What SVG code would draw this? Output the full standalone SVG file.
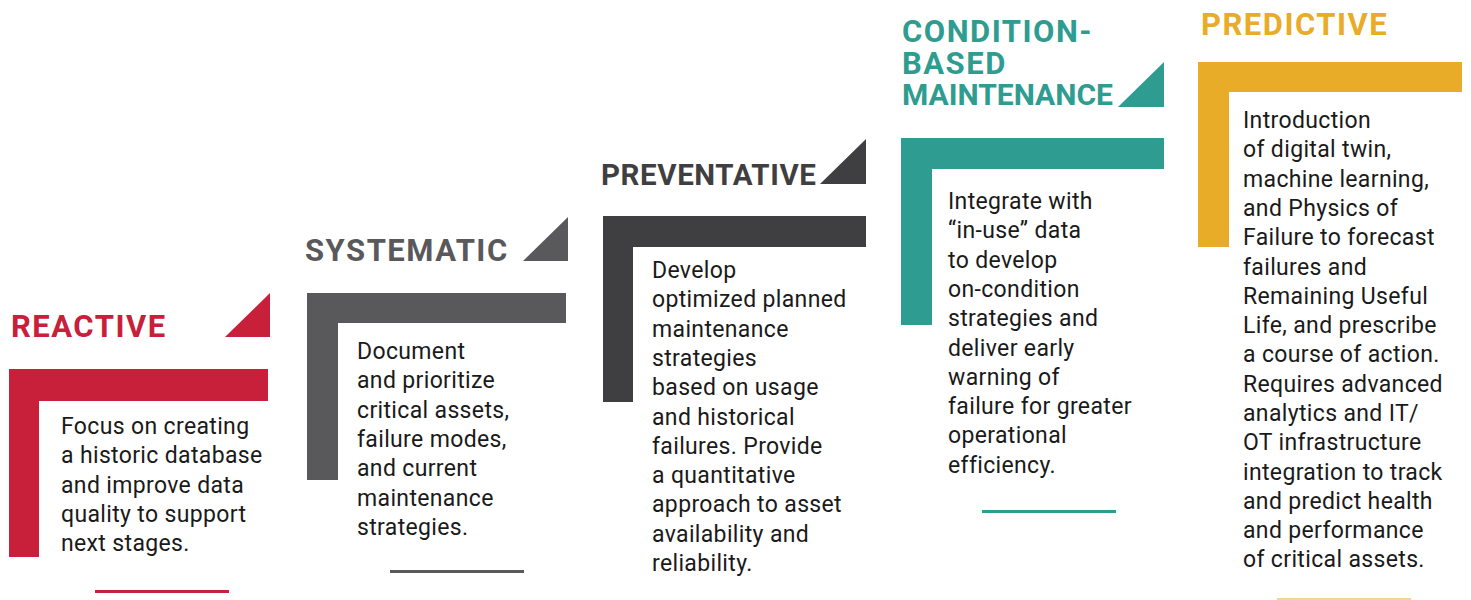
<svg xmlns="http://www.w3.org/2000/svg" width="1471" height="600" viewBox="0 0 1471 600">
<style>
.title{font-family:Roboto,"Liberation Sans",sans-serif;font-weight:700;font-size:31px;letter-spacing:1.5px}
.body{font-family:Roboto,"Liberation Sans",sans-serif;font-size:23px;letter-spacing:0.35px;fill:#1a1a1a}
.red{fill:#C8203A}
.grey{fill:#59595B}
.dark{fill:#3F3F41}
.teal{fill:#2E9C90}
.gold{fill:#E8AC28}
</style>
<rect width="1471" height="600" fill="#ffffff"/>

<g id="reactive">
<text class="title red" x="11" y="337">REACTIVE</text>
<polygon class="red" points="225,337 270,293 270,337"/>
<path class="red" d="M9,369 H268 V401 H39 V557 H9 Z"/>
<text class="body" x="61" y="434"><tspan x="61">Focus on creating</tspan><tspan x="61" dy="29.3">a historic database</tspan><tspan x="61" dy="29.3">and improve data</tspan><tspan x="61" dy="29.3">quality to support</tspan><tspan x="61" dy="29.3">next stages.</tspan></text>
<rect class="red" x="95" y="590" width="134" height="3"/>
</g>

<g id="systematic">
<text class="title grey" x="305" y="261">SYSTEMATIC</text>
<polygon class="grey" points="523,261 568,217 568,261"/>
<path class="grey" d="M307,293 H566 V323 H338 V480 H307 Z"/>
<text class="body" x="357" y="359"><tspan x="357">Document</tspan><tspan x="357" dy="29.3">and prioritize</tspan><tspan x="357" dy="29.3">critical assets,</tspan><tspan x="357" dy="29.3">failure modes,</tspan><tspan x="357" dy="29.3">and current</tspan><tspan x="357" dy="29.3">maintenance</tspan><tspan x="357" dy="29.3">strategies.</tspan></text>
<rect class="grey" x="390" y="570" width="134" height="3"/>
</g>

<g id="preventative">
<text class="title dark" x="601" y="185" style="font-size:29.5px;letter-spacing:0.6px">PREVENTATIVE</text>
<polygon class="dark" points="820,184 866,139 866,184"/>
<path class="dark" d="M603,216 H866 V247 H633 V402 H603 Z"/>
<text class="body" x="652" y="278"><tspan x="652">Develop</tspan><tspan x="652" dy="29.3">optimized planned</tspan><tspan x="652" dy="29.3">maintenance</tspan><tspan x="652" dy="29.3">strategies</tspan><tspan x="652" dy="29.3">based on usage</tspan><tspan x="652" dy="29.3">and historical</tspan><tspan x="652" dy="29.3">failures. Provide</tspan><tspan x="652" dy="29.3">a quantitative</tspan><tspan x="652" dy="29.3">approach to asset</tspan><tspan x="652" dy="29.3">availability and</tspan><tspan x="652" dy="29.3">reliability.</tspan></text>
</g>

<g id="condition-based">
<text class="title teal" x="902" y="42">CONDITION-</text>
<text class="title teal" x="902" y="73.5">BASED</text>
<text class="title teal" x="902" y="105" style="font-size:30px;letter-spacing:0px">MAINTENANCE</text>
<polygon class="teal" points="1118,107 1164,62 1164,107"/>
<path class="teal" d="M901,138 H1164 V169 H932 V325 H901 Z"/>
<text class="body" x="948" y="209"><tspan x="948">Integrate with</tspan><tspan x="948" dy="29.3">“in-use” data</tspan><tspan x="948" dy="29.3">to develop</tspan><tspan x="948" dy="29.3">on-condition</tspan><tspan x="948" dy="29.3">strategies and</tspan><tspan x="948" dy="29.3">deliver early</tspan><tspan x="948" dy="29.3">warning of</tspan><tspan x="948" dy="29.3">failure for greater</tspan><tspan x="948" dy="29.3">operational</tspan><tspan x="948" dy="29.3">efficiency.</tspan></text>
<rect class="teal" x="982" y="510" width="134" height="3"/>
</g>

<g id="predictive">
<text class="title gold" x="1201" y="35">PREDICTIVE</text>
<path class="gold" d="M1198,62 H1462 V92 H1229 V247 H1198 Z"/>
<text class="body" x="1243" y="128"><tspan x="1243">Introduction</tspan><tspan x="1243" dy="29.3">of digital twin,</tspan><tspan x="1243" dy="29.3">machine learning,</tspan><tspan x="1243" dy="29.3">and Physics of</tspan><tspan x="1243" dy="29.3">Failure to forecast</tspan><tspan x="1243" dy="29.3">failures and</tspan><tspan x="1243" dy="29.3">Remaining Useful</tspan><tspan x="1243" dy="29.3">Life, and prescribe</tspan><tspan x="1243" dy="29.3">a course of action.</tspan><tspan x="1243" dy="29.3">Requires advanced</tspan><tspan x="1243" dy="29.3">analytics and IT/</tspan><tspan x="1243" dy="29.3">OT infrastructure</tspan><tspan x="1243" dy="29.3">integration to track</tspan><tspan x="1243" dy="29.3">and predict health</tspan><tspan x="1243" dy="29.3">and performance</tspan><tspan x="1243" dy="29.3">of critical assets.</tspan></text>
<rect class="gold" x="1277" y="598" width="134" height="2" opacity="0.5"/>
</g>
</svg>
